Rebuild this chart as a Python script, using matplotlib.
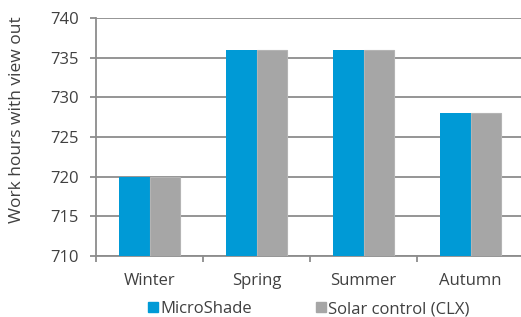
import numpy as np
import matplotlib.pyplot as plt
from matplotlib.patches import Patch

# Data
seasons = ["Winter", "Spring", "Summer", "Autumn"]
microshade = [720, 736, 736, 728]
solar_control = [720, 736, 736, 728]
y_ticks = [710, 715, 720, 725, 730, 735, 740]

BLUE = "#009ad6"
GREY = "#a6a6a6"
GRID = "#8c8c8c"
TEXT = "#404040"

plt.rcParams["font.family"] = ["Open Sans", "DejaVu Sans"]

fig = plt.figure(figsize=(5.21, 3.17), dpi=100)
ax = fig.add_axes([96 / 521, 1 - 256 / 317, 428 / 521, 238 / 317])

x = np.arange(len(seasons))
w = 0.285
ax.bar(x - w / 2, [v - 710 for v in microshade], w, bottom=710, color=BLUE, zorder=3)
ax.bar(x + w / 2, [v - 710 for v in solar_control], w, bottom=710, color=GREY,
       edgecolor="#b4b4b4", linewidth=0.8, zorder=3)

ax.set_xlim(-0.5, 3.5)
ax.set_ylim(710, 740)
ax.set_yticks(y_ticks)
ax.set_yticklabels([str(t) for t in y_ticks], fontsize=12, color=TEXT)
ax.yaxis.grid(True, color=GRID, linewidth=1.3, zorder=0)

# category labels centred, tick marks on the boundaries
ax.set_xticks(np.arange(-0.5, 4.0, 1.0))
ax.set_xticklabels([])
ax.set_xticks(x, minor=True)
ax.set_xticklabels(seasons, minor=True, fontsize=12, color=TEXT)
ax.tick_params(axis="x", which="minor", length=0, pad=12)
ax.tick_params(axis="x", which="major", length=4, width=1.3, color=GRID)
ax.tick_params(axis="y", length=4.3, width=1.3, color=GRID, pad=8)

for s in ["top", "right"]:
    ax.spines[s].set_visible(False)
for s in ["left", "bottom"]:
    ax.spines[s].set_color(GRID)
    ax.spines[s].set_linewidth(1.3)

ax.set_ylabel("Work hours with view out", fontsize=12.5, color=TEXT)
ax.yaxis.set_label_coords(-71 / 428, (256 - 120) / 238)

handles = [Patch(color=BLUE, label="MicroShade"), Patch(color=GREY, label="Solar control (CLX)")]
leg = fig.legend(handles=handles, loc="center", bbox_to_anchor=(309 / 521, 1 - 309 / 317),
                 ncol=2, frameon=False, fontsize=12, handlelength=0.6, handleheight=0.6,
                 handletextpad=0.15, columnspacing=3.8, labelcolor=TEXT, borderpad=0)

fig.savefig("out.png", dpi=100)
